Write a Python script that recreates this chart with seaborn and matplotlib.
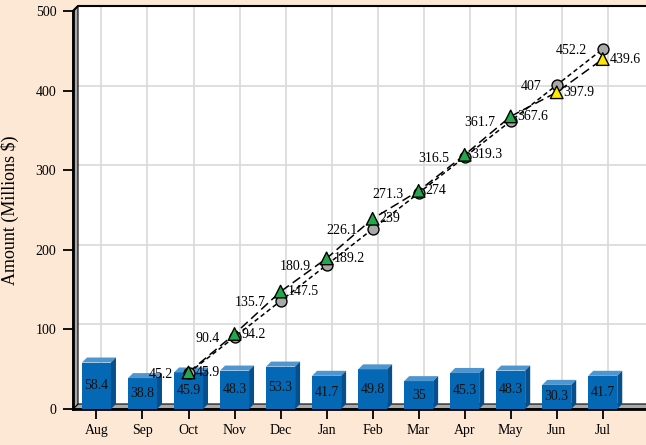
import numpy as np
import matplotlib
matplotlib.use("Agg")
import matplotlib.pyplot as plt
import matplotlib.transforms as mtransforms
from matplotlib.patches import Polygon, Rectangle
import seaborn as sns

months = ['Aug', 'Sep', 'Oct', 'Nov', 'Dec', 'Jan', 'Feb', 'Mar', 'Apr', 'May', 'Jun', 'Jul']
monthly = [58.4, 38.8, 45.9, 48.3, 53.3, 41.7, 49.8, 35, 45.3, 48.3, 30.3, 41.7]
target = [np.nan, np.nan, 45.2, 90.4, 135.7, 180.9, 226.1, 271.3, 316.5, 361.7, 407, 452.2]
actual = [np.nan, np.nan, 45.9, 94.2, 147.5, 189.2, 239, 274, 319.3, 367.6, 397.9, 439.6]
yticks = [0, 100, 200, 300, 400, 500]

bg = '#FDE8D5'
bar_front = '#0568B4'
bar_top = '#4E96D0'
bar_side = '#074F8C'
wall = '#A9A9A9'
fs = 10

plt.rcParams['font.family'] = ['Liberation Serif', 'DejaVu Serif']

fig = plt.figure(figsize=(6.46, 4.45), dpi=100, facecolor=bg)
ax = fig.add_axes([73/646, 36/445, 573/646, 398/445])
ax.set_facecolor('white')

xlim = (-0.51, 11.94)
ax.set_xlim(xlim)
ax.set_ylim(0, 500)

depth = 5  # px
ddx, ddy = depth/573, depth/398
dxd = depth*(xlim[1]-xlim[0])/573
dyd = depth*500/398
shift = mtransforms.ScaledTranslation(depth/100, depth/100, fig.dpi_scale_trans)

# back wall
ax.add_patch(Rectangle((ddx, ddy), 1, 1, transform=ax.transAxes, facecolor='white',
                       edgecolor='none', clip_on=False, zorder=0.1))
ax.plot([0, ddx, 1+ddx], [1, 1+ddy, 1+ddy], transform=ax.transAxes, color='black',
        lw=1.5, clip_on=False, zorder=1.5)

# grid on the back wall
for v in yticks[1:]:
    ax.plot(xlim, [v, v], color='#D9D9D9', lw=1.2, transform=ax.transData + shift,
            clip_on=False, zorder=0.5)
for i in range(len(months)):
    ax.plot([i, i], [0, 500], color='#D9D9D9', lw=1.2, transform=ax.transData + shift,
            clip_on=False, zorder=0.5)

# floor and left wall
ax.add_patch(Polygon([(0, 0), (1.02, 0), (1.02+ddx, ddy), (ddx, ddy)], closed=True,
                     transform=ax.transAxes, facecolor=wall, edgecolor='black', lw=0.8,
                     clip_on=False, zorder=1))
ax.add_patch(Polygon([(0, 0), (ddx, ddy), (ddx, 1+ddy), (0, 1)], closed=True,
                     transform=ax.transAxes, facecolor=wall, edgecolor='black', lw=0.8,
                     clip_on=False, zorder=1))

# bars
sns.barplot(x=list(range(len(months))), y=monthly, native_scale=True, width=0.63,
            color=bar_front, saturation=1, edgecolor='none', zorder=2, ax=ax)
for p in list(ax.patches):
    if not isinstance(p, Rectangle) or p.get_zorder() != 2:
        continue
    x0, w, h = p.get_x(), p.get_width(), p.get_height()
    ax.add_patch(Polygon([(x0, h), (x0+w, h), (x0+w+dxd, h+dyd), (x0+dxd, h+dyd)],
                         closed=True, facecolor=bar_top, edgecolor='none', zorder=2))
    ax.add_patch(Polygon([(x0+w, 0), (x0+w, h), (x0+w+dxd, h+dyd), (x0+w+dxd, dyd)],
                         closed=True, facecolor=bar_side, edgecolor='none', zorder=2))
ax.bar_label(ax.containers[0], labels=['%g' % v for v in monthly], label_type='center',
             fontsize=fs, color='#111111', zorder=6)

# cumulative lines
pos = np.arange(len(months))
sns.lineplot(x=pos, y=target, color='black', lw=1.1, linestyle=(0, (3, 2)), ax=ax, zorder=3)
sns.lineplot(x=pos, y=actual, color='black', lw=1.1, linestyle=(0, (6, 3)), ax=ax, zorder=3)
sns.scatterplot(x=pos, y=target, marker='o', s=62, color='#A8A8A8', edgecolor='black',
                linewidth=1, ax=ax, zorder=4, legend=False)
status = ['ok' if a >= t else 'low' for a, t in zip(actual, target)]
sns.scatterplot(x=pos, y=actual, hue=status, palette={'ok': '#22A84A', 'low': '#FFE600'},
                marker='^', s=82, edgecolor='black', linewidth=1, ax=ax, zorder=4, legend=False)

for i in range(len(months)):
    if np.isnan(target[i]):
        continue
    ax.annotate('%g' % target[i], (i, target[i]), xytext=(-11, -1), textcoords='offset points',
                ha='right', va='center', fontsize=fs, zorder=6)
    ax.annotate('%g' % actual[i], (i, actual[i]), xytext=(5, 0), textcoords='offset points',
                ha='left', va='center', fontsize=fs, zorder=6)

# axes styling
ax.set_xticks(pos)
ax.set_xticklabels(months)
ax.set_yticks(yticks)
ax.tick_params(axis='both', direction='out', length=7, width=1.3, labelsize=fs, color='black')
ax.tick_params(axis='y', pad=5)
for s in ['top', 'right']:
    ax.spines[s].set_visible(False)
ax.spines['left'].set_linewidth(2)
ax.spines['bottom'].set_linewidth(2)
ax.spines['left'].set_zorder(1.6)
ax.spines['bottom'].set_zorder(1.6)
ax.spines['bottom'].set_bounds(xlim[0], xlim[1] + 1)
ax.set_xlabel('')
ax.set_ylabel('Amount (Millions $)', fontsize=13)
ax.yaxis.set_label_coords(-0.094, 0.5)

fig.savefig('out.png', dpi=100, facecolor=bg)
